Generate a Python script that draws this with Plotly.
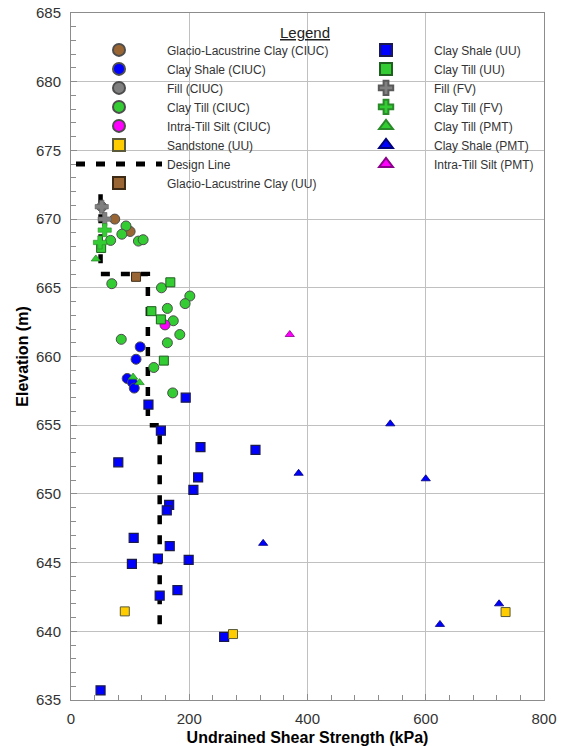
import plotly.graph_objects as go

# Undrained shear strength (kPa) and elevation (m) for each soil / test type
glc_ciuc_su = [74, 100]
glc_ciuc_el = [670.0, 669.1]

shale_ciuc_su = [117, 110, 95, 104, 107]
shale_ciuc_el = [660.7, 659.8, 658.4, 658.1, 657.7]

fill_ciuc_su = [52]
fill_ciuc_el = [670.9]

till_ciuc_su = [93, 86, 67, 114, 122, 69, 153, 201, 193, 163, 173, 184, 85, 163, 140, 172]
till_ciuc_el = [669.5, 668.9, 668.45, 668.4, 668.5, 665.3, 665.0, 664.4, 663.85, 663.5,
                662.6, 661.6, 661.25, 661.0, 659.2, 657.35]

silt_ciuc_su = [159]
silt_ciuc_el = [662.3]

sand_uu_su = [91, 274, 735]
sand_uu_el = [641.45, 639.8, 641.4]

design_su = [50, 50, 130, 130, 150, 150]
design_el = [671.8, 666, 666, 655, 655, 640]

glc_uu_su = [110]
glc_uu_el = [665.8]

shale_uu_su = [131, 194, 152, 219, 312, 80, 215, 207, 166, 162, 106, 167, 103, 147,
               199, 180, 150, 259, 50]
shale_uu_el = [656.5, 657.0, 654.6, 653.4, 653.2, 652.3, 651.2, 650.3, 649.2, 648.8,
               646.8, 646.2, 644.9, 645.3, 645.2, 643.0, 642.6, 639.6, 635.7]

till_uu_su = [51, 168, 136, 152, 157]
till_uu_el = [667.9, 665.4, 663.3, 662.7, 659.7]

fill_fv_su = [52, 57]
fill_fv_el = [670.9, 670.0]

till_fv_su = [57, 49]
till_fv_el = [669.2, 668.3]

till_pmt_su = [42, 105, 116]
till_pmt_el = [667.1, 658.5, 658.1]

shale_pmt_su = [540, 385, 600, 325, 724, 624]
shale_pmt_el = [655.1, 651.5, 651.1, 646.4, 642.0, 640.5]

silt_pmt_su = [370]
silt_pmt_el = [661.6]

X_RANGE = [0, 800]
Y_RANGE = [635, 685]

BROWN = "#996633"
BLUE = "#0000FF"
GRAY = "#808080"
GREEN = "#33CC33"
MAGENTA = "#FF00FF"
GOLD = "#FFCC00"
FONT = "Liberation Sans, Arial, sans-serif"
AXIS_GRAY = "#8c8c8c"

fig = go.Figure()

# design line drawn first so the test markers sit over it
fig.add_trace(go.Scatter(
    x=design_su, y=design_el, mode="lines", name="Design Line",
    legend="legend", legendrank=7,
    line=dict(color="black", width=4.5, dash="9px,11px")))


def pts(x, y, name, col, rank, symbol, color, size=10, lc="#4d4d4d", lw=1):
    fig.add_trace(go.Scatter(
        x=x, y=y, mode="markers", name=name, legend=col, legendrank=rank,
        marker=dict(symbol=symbol, color=color, size=size,
                    line=dict(color=lc, width=lw))))


# left legend column is "legend", right column is "legend2"
pts(glc_ciuc_su, glc_ciuc_el, "Glacio-Lacustrine Clay (CIUC)", "legend", 1, "circle", BROWN)
pts(fill_ciuc_su, fill_ciuc_el, "Fill (CIUC)", "legend", 3, "circle", GRAY)
pts(till_ciuc_su, till_ciuc_el, "Clay Till (CIUC)", "legend", 4, "circle", GREEN)
pts(silt_ciuc_su, silt_ciuc_el, "Intra-Till Silt (CIUC)", "legend", 5, "circle", MAGENTA)
pts(glc_uu_su, glc_uu_el, "Glacio-Lacustrine Clay (UU)", "legend", 8, "square", BROWN,
    size=9, lc="#3d2a14")
pts(till_uu_su, till_uu_el, "Clay Till (UU)", "legend2", 2, "square", GREEN, size=9,
    lc="#1f5f1f")
pts(shale_ciuc_su, shale_ciuc_el, "Clay Shale (CIUC)", "legend", 2, "circle", BLUE)
pts(till_pmt_su, till_pmt_el, "Clay Till (PMT)", "legend2", 5, "triangle-up", GREEN, size=8,
    lc="#2a8a2a", lw=0.8)
pts(shale_uu_su, shale_uu_el, "Clay Shale (UU)", "legend2", 1, "square", BLUE, size=9,
    lc="#1a1a4d", lw=1.2)
pts(sand_uu_su, sand_uu_el, "Sandstone (UU)", "legend", 6, "square", GOLD, size=9,
    lc="#5a5a3a")
pts(fill_fv_su, fill_fv_el, "Fill (FV)", "legend2", 3, "cross", GRAY, size=11,
    lc="#5a5a5a", lw=0.6)
pts(till_fv_su, till_fv_el, "Clay Till (FV)", "legend2", 4, "cross", GREEN, size=11,
    lc="#2a8a2a", lw=0.6)
pts(shale_pmt_su, shale_pmt_el, "Clay Shale (PMT)", "legend2", 6, "triangle-up", BLUE,
    size=8, lc="#00007a", lw=0.8)
pts(silt_pmt_su, silt_pmt_el, "Intra-Till Silt (PMT)", "legend2", 7, "triangle-up", MAGENTA,
    size=8, lc="#8a008a", lw=0.8)

axis_common = dict(
    showline=True, linecolor=AXIS_GRAY, linewidth=1, mirror=True,
    ticks="inside", ticklen=6, tickcolor=AXIS_GRAY, automargin=False,
    showgrid=True, gridcolor="#c0c0c0", gridwidth=1, zeroline=False,
    tickfont=dict(family=FONT, size=15, color="#333333"),
)

fig.update_layout(
    xaxis=dict(
        range=X_RANGE, dtick=200, tick0=0, ticklabelstandoff=5,
        minor=dict(dtick=40, ticks="inside", ticklen=5, tickcolor=AXIS_GRAY, showgrid=False),
        title=dict(text="<b>Undrained Shear Strength (kPa)</b>", standoff=9,
                   font=dict(family=FONT, size=16, color="black")),
        **axis_common),
    yaxis=dict(
        range=Y_RANGE, dtick=5, tick0=635, ticklabelstandoff=6,
        minor=dict(dtick=1, ticks="inside", ticklen=5, tickcolor=AXIS_GRAY, showgrid=False),
        title=dict(text="<b>Elevation (m)</b>", standoff=3,
                   font=dict(family=FONT, size=16, color="black")),
        **axis_common),
    # major ticks only on the top and right frame edges
    xaxis2=dict(range=X_RANGE, dtick=200, tick0=0, overlaying="x", side="top",
                ticks="inside", ticklen=5, tickcolor=AXIS_GRAY, showticklabels=False,
                showgrid=False, zeroline=False, showline=False, automargin=False),
    yaxis2=dict(range=Y_RANGE, dtick=5, tick0=635, overlaying="y", side="right",
                ticks="inside", ticklen=8, tickcolor=AXIS_GRAY, showticklabels=False,
                showgrid=False, zeroline=False, showline=False, automargin=False),
)

# white panel behind the legend, over the grid
fig.add_shape(type="rect", xref="paper", yref="paper", layer="between",
              x0=0.008, x1=0.993, y0=0.7325, y1=0.9925,
              fillcolor="white", line=dict(width=0))

fig.add_annotation(xref="paper", yref="paper", x=0.495, y=0.9709,
                   xanchor="center", yanchor="middle",
                   text="<u>Legend</u>", showarrow=False,
                   font=dict(family=FONT, size=15, color="#222222"))

legend_common = dict(
    orientation="v", yanchor="top", xanchor="left", itemwidth=86,
    itemsizing="constant", bgcolor="rgba(0,0,0,0)", borderwidth=0,
    traceorder="normal", font=dict(family=FONT, size=12, color="#333333"),
)

fig.update_layout(
    width=562, height=746,
    margin=dict(l=71, r=18, t=13, b=46),
    paper_bgcolor="white", plot_bgcolor="white",
    font=dict(family=FONT, size=12, color="#333333"),
    legend=dict(x=0.0, y=0.9674, **legend_common),
    legend2=dict(x=0.5645, y=0.9674, **legend_common),
)

fig.write_html("out.html")
